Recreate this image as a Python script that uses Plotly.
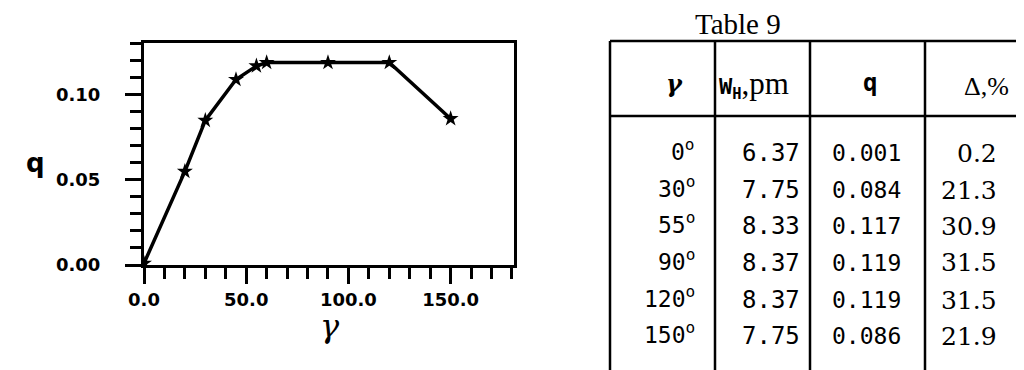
import plotly.graph_objects as go

W, H = 1024, 370

# ---- data ----
gamma_pts = [0, 20, 30, 45, 55, 60, 90, 120, 150]
q_pts = [0.001, 0.055, 0.085, 0.109, 0.117, 0.119, 0.119, 0.119, 0.086]
x_tick_vals = [0, 50, 100, 150]
y_tick_vals = [0.00, 0.05, 0.10]

table_title = "Table 9"
tab_gamma = ["0", "30", "55", "90", "120", "150"]
tab_w = ["6.37", "7.75", "8.33", "8.37", "8.37", "7.75"]
tab_q = ["0.001", "0.084", "0.117", "0.119", "0.119", "0.086"]
tab_delta = ["0.2", "21.3", "30.9", "31.5", "31.5", "21.9"]


def px(x):
    return x / W


def py(y):
    return 1 - y / H


fig = go.Figure()
fig.add_trace(go.Scatter(
    x=gamma_pts, y=q_pts, mode="lines+markers",
    line=dict(color="black", width=3.5),
    marker=dict(symbol="star", size=12, color="black"),
    showlegend=False, hoverinfo="skip",
))

axis_font = dict(family="DejaVu Sans", size=18, color="black", weight="bold")

fig.update_layout(
    width=W, height=H,
    margin=dict(l=0, r=0, t=0, b=0),
    paper_bgcolor="white", plot_bgcolor="white",
    xaxis=dict(
        domain=[px(136), px(506)], range=[0, 181],
        showgrid=False, zeroline=False,
        showline=True, linecolor="black", linewidth=3, mirror=True,
        ticks="outside", ticklen=16, tickwidth=3, tickcolor="black",
        tickvals=x_tick_vals, tickformat=".1f", tickfont=axis_font,
        minor=dict(dtick=10, ticks="outside", ticklen=11, tickwidth=3, tickcolor="black"),
        automargin=False, fixedrange=True,
    ),
    yaxis=dict(
        domain=[py(257), py(35)], range=[0, 0.1305],
        showgrid=False, zeroline=False,
        showline=True, linecolor="black", linewidth=3, mirror=True,
        ticks="outside", ticklen=16, tickwidth=3, tickcolor="black",
        tickvals=y_tick_vals, tickformat=".2f", tickfont=axis_font,
        ticklabelstandoff=21,
        minor=dict(dtick=0.01, ticks="outside", ticklen=11, tickwidth=3, tickcolor="black"),
        automargin=False, fixedrange=True,
    ),
)

ann = []
# axis titles
ann.append(dict(x=px(27), y=py(155), xref="paper", yref="paper", text="q",
                showarrow=False, xanchor="center", yanchor="middle",
                font=dict(family="DejaVu Sans", size=26, color="black", weight="bold")))
ann.append(dict(x=px(322), y=py(318), xref="paper", yref="paper", text="γ",
                showarrow=False, xanchor="center", yanchor="middle",
                font=dict(family="DejaVu Serif", size=32, color="black", style="italic")))

# ---- table ----
shapes = []
line = dict(color="black", width=2.5)
L, R, T, HB, B = 602, 1020, 33, 108, 367
for (x0, y0, x1, y1) in [(L, T, R, T), (L, HB, R, HB), (L, B, R, B),
                         (L, T, L, B), (R, T, R, B),
                         (707, T, 707, B), (802, T, 802, B), (917, T, 917, B)]:
    shapes.append(dict(type="line", xref="paper", yref="paper",
                       x0=px(x0), y0=py(y0), x1=px(x1), y1=py(y1), line=line))

serif = "DejaVu Serif"
mono = "DejaVu Sans Mono"
ann.append(dict(x=px(730), y=py(16), xref="paper", yref="paper", text=table_title,
                showarrow=False, xanchor="center", yanchor="middle",
                font=dict(family="Liberation Serif", size=29, color="black")))
# header
ann.append(dict(x=px(666), y=py(75), xref="paper", yref="paper", text="γ",
                showarrow=False, xanchor="center", yanchor="middle",
                font=dict(family=serif, size=24, color="black", weight="bold", style="italic")))
ann.append(dict(x=px(709), y=py(76), xref="paper", yref="paper",
                text='W<sub>H</sub><span style="font-family:Liberation Serif;font-size:31px;font-weight:normal">,pm</span>',
                showarrow=False, xanchor="left", yanchor="middle",
                font=dict(family=mono, size=22, color="black", weight="bold")))
ann.append(dict(x=px(862), y=py(75), xref="paper", yref="paper", text="q",
                showarrow=False, xanchor="center", yanchor="middle",
                font=dict(family=mono, size=24, color="black", weight="bold")))
ann.append(dict(x=px(978), y=py(78), xref="paper", yref="paper", text="Δ,%",
                showarrow=False, xanchor="center", yanchor="middle",
                font=dict(family="Liberation Serif", size=26, color="black")))

row_y = [145, 182, 218, 255, 292, 328]
for i, yv in enumerate(row_y):
    ann.append(dict(x=px(689), y=py(yv - 3), xref="paper", yref="paper",
                    text=tab_gamma[i] + "<sup>o</sup>",
                    showarrow=False, xanchor="right", yanchor="middle",
                    font=dict(family=mono, size=23, color="black")))
    ann.append(dict(x=px(794), y=py(yv), xref="paper", yref="paper", text=tab_w[i],
                    showarrow=False, xanchor="right", yanchor="middle",
                    font=dict(family=mono, size=24, color="black")))
    ann.append(dict(x=px(858), y=py(yv), xref="paper", yref="paper", text=tab_q[i],
                    showarrow=False, xanchor="center", yanchor="middle",
                    font=dict(family=mono, size=23, color="black")))
    ann.append(dict(x=px(991), y=py(yv), xref="paper", yref="paper", text=tab_delta[i],
                    showarrow=False, xanchor="right", yanchor="middle",
                    font=dict(family=serif, size=25, color="black")))

fig.update_layout(annotations=ann, shapes=shapes)
fig.write_html("out.html")
